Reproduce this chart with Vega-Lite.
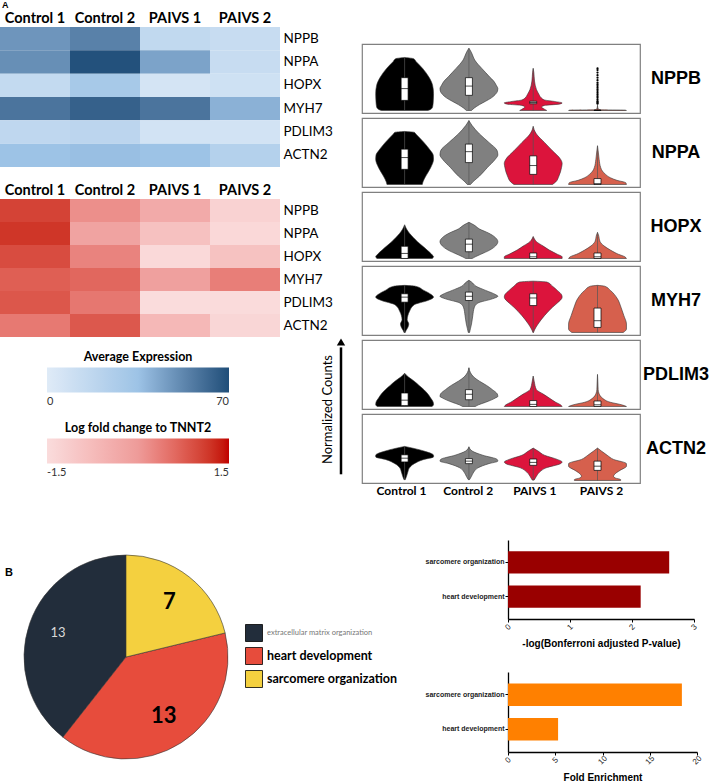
{
"$schema": "https://vega.github.io/schema/vega-lite/v6.json",
"padding": {"left": 0, "top": 1, "right": 0, "bottom": 0},
"background": "white",
"config": {"view": {"stroke": null}, "font": "Liberation Sans", "axis": {"grid": false}},
"datasets": {
"hm": [
{"gene":"NPPB","sample":"Control 1","expr":48,"lfc":1.04},
{"gene":"NPPB","sample":"Control 2","expr":54,"lfc":0.15},
{"gene":"NPPB","sample":"PAIVS 1","expr":16,"lfc":-0.35},
{"gene":"NPPB","sample":"PAIVS 2","expr":13,"lfc":-1.27},
{"gene":"NPPA","sample":"Control 1","expr":50,"lfc":1.17},
{"gene":"NPPA","sample":"Control 2","expr":69,"lfc":-0.18},
{"gene":"NPPA","sample":"PAIVS 1","expr":44,"lfc":-0.88},
{"gene":"NPPA","sample":"PAIVS 2","expr":13,"lfc":-1.4},
{"gene":"HOPX","sample":"Control 1","expr":15,"lfc":0.94},
{"gene":"HOPX","sample":"Control 2","expr":30,"lfc":0.29},
{"gene":"HOPX","sample":"PAIVS 1","expr":6,"lfc":-1.43},
{"gene":"HOPX","sample":"PAIVS 2","expr":9,"lfc":-0.9},
{"gene":"MYH7","sample":"Control 1","expr":58,"lfc":0.73},
{"gene":"MYH7","sample":"Control 2","expr":64,"lfc":0.63},
{"gene":"MYH7","sample":"PAIVS 1","expr":58,"lfc":-0.12},
{"gene":"MYH7","sample":"PAIVS 2","expr":40,"lfc":0.36},
{"gene":"PDLIM3","sample":"Control 1","expr":17,"lfc":0.82},
{"gene":"PDLIM3","sample":"Control 2","expr":19,"lfc":0.44},
{"gene":"PDLIM3","sample":"PAIVS 1","expr":7,"lfc":-1.5},
{"gene":"PDLIM3","sample":"PAIVS 2","expr":7,"lfc":-1.48},
{"gene":"ACTN2","sample":"Control 1","expr":35,"lfc":0.42},
{"gene":"ACTN2","sample":"Control 2","expr":36,"lfc":0.8},
{"gene":"ACTN2","sample":"PAIVS 1","expr":35,"lfc":-0.67},
{"gene":"ACTN2","sample":"PAIVS 2","expr":23,"lfc":-1.36}
],
"vio": [
{"gene":"NPPB","grp":"Control 1","v":0,"d":0.72},{"gene":"NPPB","grp":"Control 1","v":0.15,"d":0.82},{"gene":"NPPB","grp":"Control 1","v":0.4,"d":0.87},{"gene":"NPPB","grp":"Control 1","v":1,"d":0.89},{"gene":"NPPB","grp":"Control 1","v":2,"d":0.9},{"gene":"NPPB","grp":"Control 1","v":3,"d":0.87},{"gene":"NPPB","grp":"Control 1","v":4,"d":0.75},{"gene":"NPPB","grp":"Control 1","v":5,"d":0.56},{"gene":"NPPB","grp":"Control 1","v":5.8,"d":0.36},{"gene":"NPPB","grp":"Control 1","v":6.15,"d":0.28},{"gene":"NPPB","grp":"Control 1","v":6.3,"d":0},
{"gene":"NPPB","grp":"Control 2","v":0,"d":0.08},{"gene":"NPPB","grp":"Control 2","v":0.3,"d":0.17},{"gene":"NPPB","grp":"Control 2","v":0.7,"d":0.33},{"gene":"NPPB","grp":"Control 2","v":1.1,"d":0.52},{"gene":"NPPB","grp":"Control 2","v":1.5,"d":0.7},{"gene":"NPPB","grp":"Control 2","v":1.9,"d":0.82},{"gene":"NPPB","grp":"Control 2","v":2.3,"d":0.89},{"gene":"NPPB","grp":"Control 2","v":2.6,"d":0.9},{"gene":"NPPB","grp":"Control 2","v":3,"d":0.85},{"gene":"NPPB","grp":"Control 2","v":3.5,"d":0.77},{"gene":"NPPB","grp":"Control 2","v":4,"d":0.64},{"gene":"NPPB","grp":"Control 2","v":4.5,"d":0.52},{"gene":"NPPB","grp":"Control 2","v":5,"d":0.4},{"gene":"NPPB","grp":"Control 2","v":5.5,"d":0.28},{"gene":"NPPB","grp":"Control 2","v":6,"d":0.18},{"gene":"NPPB","grp":"Control 2","v":6.7,"d":0.1},{"gene":"NPPB","grp":"Control 2","v":7.1,"d":0.05},{"gene":"NPPB","grp":"Control 2","v":7.4,"d":0},
{"gene":"NPPB","grp":"PAIVS 1","v":0,"d":0.42},{"gene":"NPPB","grp":"PAIVS 1","v":0.15,"d":0.35},{"gene":"NPPB","grp":"PAIVS 1","v":0.4,"d":0.26},{"gene":"NPPB","grp":"PAIVS 1","v":0.6,"d":0.35},{"gene":"NPPB","grp":"PAIVS 1","v":0.75,"d":0.8},{"gene":"NPPB","grp":"PAIVS 1","v":0.9,"d":0.9},{"gene":"NPPB","grp":"PAIVS 1","v":1.05,"d":0.7},{"gene":"NPPB","grp":"PAIVS 1","v":1.25,"d":0.35},{"gene":"NPPB","grp":"PAIVS 1","v":1.5,"d":0.25},{"gene":"NPPB","grp":"PAIVS 1","v":1.9,"d":0.18},{"gene":"NPPB","grp":"PAIVS 1","v":2.5,"d":0.1},{"gene":"NPPB","grp":"PAIVS 1","v":3.5,"d":0.04},{"gene":"NPPB","grp":"PAIVS 1","v":4.5,"d":0.02},{"gene":"NPPB","grp":"PAIVS 1","v":5,"d":0},
{"gene":"NPPB","grp":"PAIVS 2","v":0,"d":0.9},{"gene":"NPPB","grp":"PAIVS 2","v":0.04,"d":0.85},{"gene":"NPPB","grp":"PAIVS 2","v":0.08,"d":0.1},{"gene":"NPPB","grp":"PAIVS 2","v":0.2,"d":0.02},{"gene":"NPPB","grp":"PAIVS 2","v":0.6,"d":0},
{"gene":"NPPA","grp":"Control 1","v":0,"d":0.55},{"gene":"NPPA","grp":"Control 1","v":0.3,"d":0.57},{"gene":"NPPA","grp":"Control 1","v":1,"d":0.66},{"gene":"NPPA","grp":"Control 1","v":2,"d":0.81},{"gene":"NPPA","grp":"Control 1","v":3,"d":0.9},{"gene":"NPPA","grp":"Control 1","v":3.5,"d":0.89},{"gene":"NPPA","grp":"Control 1","v":4,"d":0.81},{"gene":"NPPA","grp":"Control 1","v":5,"d":0.6},{"gene":"NPPA","grp":"Control 1","v":6,"d":0.35},{"gene":"NPPA","grp":"Control 1","v":6.2,"d":0.3},{"gene":"NPPA","grp":"Control 1","v":6.3,"d":0},
{"gene":"NPPA","grp":"Control 2","v":0,"d":0.05},{"gene":"NPPA","grp":"Control 2","v":0.3,"d":0.12},{"gene":"NPPA","grp":"Control 2","v":1,"d":0.33},{"gene":"NPPA","grp":"Control 2","v":2,"d":0.57},{"gene":"NPPA","grp":"Control 2","v":3,"d":0.82},{"gene":"NPPA","grp":"Control 2","v":3.5,"d":0.9},{"gene":"NPPA","grp":"Control 2","v":4,"d":0.88},{"gene":"NPPA","grp":"Control 2","v":5,"d":0.62},{"gene":"NPPA","grp":"Control 2","v":6,"d":0.33},{"gene":"NPPA","grp":"Control 2","v":7,"d":0.1},{"gene":"NPPA","grp":"Control 2","v":7.6,"d":0},
{"gene":"NPPA","grp":"PAIVS 1","v":0,"d":0.6},{"gene":"NPPA","grp":"PAIVS 1","v":0.3,"d":0.7},{"gene":"NPPA","grp":"PAIVS 1","v":1,"d":0.8},{"gene":"NPPA","grp":"PAIVS 1","v":2,"d":0.88},{"gene":"NPPA","grp":"PAIVS 1","v":2.5,"d":0.9},{"gene":"NPPA","grp":"PAIVS 1","v":3,"d":0.85},{"gene":"NPPA","grp":"PAIVS 1","v":4,"d":0.6},{"gene":"NPPA","grp":"PAIVS 1","v":5,"d":0.35},{"gene":"NPPA","grp":"PAIVS 1","v":6,"d":0.1},{"gene":"NPPA","grp":"PAIVS 1","v":6.5,"d":0.03},{"gene":"NPPA","grp":"PAIVS 1","v":6.9,"d":0},
{"gene":"NPPA","grp":"PAIVS 2","v":0,"d":0.9},{"gene":"NPPA","grp":"PAIVS 2","v":0.2,"d":0.88},{"gene":"NPPA","grp":"PAIVS 2","v":0.5,"d":0.6},{"gene":"NPPA","grp":"PAIVS 2","v":0.8,"d":0.4},{"gene":"NPPA","grp":"PAIVS 2","v":1.2,"d":0.25},{"gene":"NPPA","grp":"PAIVS 2","v":1.6,"d":0.15},{"gene":"NPPA","grp":"PAIVS 2","v":2,"d":0.1},{"gene":"NPPA","grp":"PAIVS 2","v":3,"d":0.05},{"gene":"NPPA","grp":"PAIVS 2","v":4,"d":0.02},{"gene":"NPPA","grp":"PAIVS 2","v":4.6,"d":0},
{"gene":"HOPX","grp":"Control 1","v":0,"d":0.86},{"gene":"HOPX","grp":"Control 1","v":0.2,"d":0.9},{"gene":"HOPX","grp":"Control 1","v":0.5,"d":0.84},{"gene":"HOPX","grp":"Control 1","v":1,"d":0.7},{"gene":"HOPX","grp":"Control 1","v":1.5,"d":0.55},{"gene":"HOPX","grp":"Control 1","v":2,"d":0.4},{"gene":"HOPX","grp":"Control 1","v":2.5,"d":0.27},{"gene":"HOPX","grp":"Control 1","v":3,"d":0.15},{"gene":"HOPX","grp":"Control 1","v":3.5,"d":0.06},{"gene":"HOPX","grp":"Control 1","v":4,"d":0},
{"gene":"HOPX","grp":"Control 2","v":0,"d":0.1},{"gene":"HOPX","grp":"Control 2","v":0.2,"d":0.2},{"gene":"HOPX","grp":"Control 2","v":0.5,"d":0.37},{"gene":"HOPX","grp":"Control 2","v":1,"d":0.65},{"gene":"HOPX","grp":"Control 2","v":1.5,"d":0.83},{"gene":"HOPX","grp":"Control 2","v":2,"d":0.9},{"gene":"HOPX","grp":"Control 2","v":2.5,"d":0.82},{"gene":"HOPX","grp":"Control 2","v":3,"d":0.62},{"gene":"HOPX","grp":"Control 2","v":3.5,"d":0.33},{"gene":"HOPX","grp":"Control 2","v":4,"d":0.15},{"gene":"HOPX","grp":"Control 2","v":4.3,"d":0},
{"gene":"HOPX","grp":"PAIVS 1","v":0,"d":0.9},{"gene":"HOPX","grp":"PAIVS 1","v":0.2,"d":0.9},{"gene":"HOPX","grp":"PAIVS 1","v":0.5,"d":0.75},{"gene":"HOPX","grp":"PAIVS 1","v":1,"d":0.5},{"gene":"HOPX","grp":"PAIVS 1","v":1.5,"d":0.3},{"gene":"HOPX","grp":"PAIVS 1","v":2,"d":0.1},{"gene":"HOPX","grp":"PAIVS 1","v":2.3,"d":0.04},{"gene":"HOPX","grp":"PAIVS 1","v":2.6,"d":0},
{"gene":"HOPX","grp":"PAIVS 2","v":0,"d":0.9},{"gene":"HOPX","grp":"PAIVS 2","v":0.2,"d":0.85},{"gene":"HOPX","grp":"PAIVS 2","v":0.5,"d":0.65},{"gene":"HOPX","grp":"PAIVS 2","v":1,"d":0.4},{"gene":"HOPX","grp":"PAIVS 2","v":1.5,"d":0.2},{"gene":"HOPX","grp":"PAIVS 2","v":2,"d":0.08},{"gene":"HOPX","grp":"PAIVS 2","v":2.8,"d":0.03},{"gene":"HOPX","grp":"PAIVS 2","v":3.1,"d":0},
{"gene":"MYH7","grp":"Control 1","v":0,"d":0.02},{"gene":"MYH7","grp":"Control 1","v":0.2,"d":0.04},{"gene":"MYH7","grp":"Control 1","v":0.6,"d":0.1},{"gene":"MYH7","grp":"Control 1","v":1,"d":0.13},{"gene":"MYH7","grp":"Control 1","v":1.5,"d":0.08},{"gene":"MYH7","grp":"Control 1","v":2,"d":0.1},{"gene":"MYH7","grp":"Control 1","v":2.5,"d":0.15},{"gene":"MYH7","grp":"Control 1","v":3.3,"d":0.3},{"gene":"MYH7","grp":"Control 1","v":3.8,"d":0.72},{"gene":"MYH7","grp":"Control 1","v":4.2,"d":0.9},{"gene":"MYH7","grp":"Control 1","v":4.5,"d":0.83},{"gene":"MYH7","grp":"Control 1","v":5,"d":0.6},{"gene":"MYH7","grp":"Control 1","v":5.5,"d":0.33},{"gene":"MYH7","grp":"Control 1","v":5.6,"d":0},
{"gene":"MYH7","grp":"Control 2","v":0,"d":0.02},{"gene":"MYH7","grp":"Control 2","v":0.5,"d":0.05},{"gene":"MYH7","grp":"Control 2","v":1,"d":0.08},{"gene":"MYH7","grp":"Control 2","v":2,"d":0.12},{"gene":"MYH7","grp":"Control 2","v":3,"d":0.17},{"gene":"MYH7","grp":"Control 2","v":3.5,"d":0.28},{"gene":"MYH7","grp":"Control 2","v":4,"d":0.73},{"gene":"MYH7","grp":"Control 2","v":4.3,"d":0.9},{"gene":"MYH7","grp":"Control 2","v":4.5,"d":0.83},{"gene":"MYH7","grp":"Control 2","v":5,"d":0.52},{"gene":"MYH7","grp":"Control 2","v":5.5,"d":0.22},{"gene":"MYH7","grp":"Control 2","v":6,"d":0.08},{"gene":"MYH7","grp":"Control 2","v":6.2,"d":0},
{"gene":"MYH7","grp":"PAIVS 1","v":0,"d":0.01},{"gene":"MYH7","grp":"PAIVS 1","v":0.3,"d":0.04},{"gene":"MYH7","grp":"PAIVS 1","v":1,"d":0.15},{"gene":"MYH7","grp":"PAIVS 1","v":2,"d":0.35},{"gene":"MYH7","grp":"PAIVS 1","v":3,"d":0.6},{"gene":"MYH7","grp":"PAIVS 1","v":3.5,"d":0.75},{"gene":"MYH7","grp":"PAIVS 1","v":4.2,"d":0.9},{"gene":"MYH7","grp":"PAIVS 1","v":4.5,"d":0.88},{"gene":"MYH7","grp":"PAIVS 1","v":5,"d":0.75},{"gene":"MYH7","grp":"PAIVS 1","v":5.5,"d":0.6},{"gene":"MYH7","grp":"PAIVS 1","v":6,"d":0.42},{"gene":"MYH7","grp":"PAIVS 1","v":6.1,"d":0},
{"gene":"MYH7","grp":"PAIVS 2","v":0,"d":0.8},{"gene":"MYH7","grp":"PAIVS 2","v":0.4,"d":0.9},{"gene":"MYH7","grp":"PAIVS 2","v":1,"d":0.9},{"gene":"MYH7","grp":"PAIVS 2","v":2,"d":0.82},{"gene":"MYH7","grp":"PAIVS 2","v":3,"d":0.73},{"gene":"MYH7","grp":"PAIVS 2","v":4,"d":0.62},{"gene":"MYH7","grp":"PAIVS 2","v":5,"d":0.4},{"gene":"MYH7","grp":"PAIVS 2","v":5.5,"d":0.22},{"gene":"MYH7","grp":"PAIVS 2","v":5.6,"d":0},
{"gene":"PDLIM3","grp":"Control 1","v":0,"d":0.85},{"gene":"PDLIM3","grp":"Control 1","v":0.2,"d":0.9},{"gene":"PDLIM3","grp":"Control 1","v":0.5,"d":0.89},{"gene":"PDLIM3","grp":"Control 1","v":1,"d":0.81},{"gene":"PDLIM3","grp":"Control 1","v":1.5,"d":0.72},{"gene":"PDLIM3","grp":"Control 1","v":2,"d":0.6},{"gene":"PDLIM3","grp":"Control 1","v":2.5,"d":0.45},{"gene":"PDLIM3","grp":"Control 1","v":3,"d":0.3},{"gene":"PDLIM3","grp":"Control 1","v":3.5,"d":0.12},{"gene":"PDLIM3","grp":"Control 1","v":3.95,"d":0},
{"gene":"PDLIM3","grp":"Control 2","v":0,"d":0.2},{"gene":"PDLIM3","grp":"Control 2","v":0.2,"d":0.3},{"gene":"PDLIM3","grp":"Control 2","v":0.5,"d":0.52},{"gene":"PDLIM3","grp":"Control 2","v":1,"d":0.82},{"gene":"PDLIM3","grp":"Control 2","v":1.2,"d":0.9},{"gene":"PDLIM3","grp":"Control 2","v":1.5,"d":0.88},{"gene":"PDLIM3","grp":"Control 2","v":2,"d":0.73},{"gene":"PDLIM3","grp":"Control 2","v":2.5,"d":0.55},{"gene":"PDLIM3","grp":"Control 2","v":3,"d":0.33},{"gene":"PDLIM3","grp":"Control 2","v":3.5,"d":0.15},{"gene":"PDLIM3","grp":"Control 2","v":4,"d":0.05},{"gene":"PDLIM3","grp":"Control 2","v":4.6,"d":0},
{"gene":"PDLIM3","grp":"PAIVS 1","v":0,"d":0.9},{"gene":"PDLIM3","grp":"PAIVS 1","v":0.2,"d":0.85},{"gene":"PDLIM3","grp":"PAIVS 1","v":0.5,"d":0.7},{"gene":"PDLIM3","grp":"PAIVS 1","v":1,"d":0.5},{"gene":"PDLIM3","grp":"PAIVS 1","v":1.5,"d":0.3},{"gene":"PDLIM3","grp":"PAIVS 1","v":2,"d":0.1},{"gene":"PDLIM3","grp":"PAIVS 1","v":3,"d":0.03},{"gene":"PDLIM3","grp":"PAIVS 1","v":3.6,"d":0},
{"gene":"PDLIM3","grp":"PAIVS 2","v":0,"d":0.9},{"gene":"PDLIM3","grp":"PAIVS 2","v":0.2,"d":0.75},{"gene":"PDLIM3","grp":"PAIVS 2","v":0.5,"d":0.4},{"gene":"PDLIM3","grp":"PAIVS 2","v":1,"d":0.15},{"gene":"PDLIM3","grp":"PAIVS 2","v":1.5,"d":0.05},{"gene":"PDLIM3","grp":"PAIVS 2","v":2,"d":0.02},{"gene":"PDLIM3","grp":"PAIVS 2","v":3,"d":0.01},{"gene":"PDLIM3","grp":"PAIVS 2","v":3.8,"d":0},
{"gene":"ACTN2","grp":"Control 1","v":0.1,"d":0.02},{"gene":"ACTN2","grp":"Control 1","v":0.5,"d":0.06},{"gene":"ACTN2","grp":"Control 1","v":1,"d":0.1},{"gene":"ACTN2","grp":"Control 1","v":1.5,"d":0.15},{"gene":"ACTN2","grp":"Control 1","v":2,"d":0.3},{"gene":"ACTN2","grp":"Control 1","v":2.5,"d":0.6},{"gene":"ACTN2","grp":"Control 1","v":2.8,"d":0.9},{"gene":"ACTN2","grp":"Control 1","v":3,"d":0.9},{"gene":"ACTN2","grp":"Control 1","v":3.5,"d":0.6},{"gene":"ACTN2","grp":"Control 1","v":3.8,"d":0.3},{"gene":"ACTN2","grp":"Control 1","v":4.05,"d":0},
{"gene":"ACTN2","grp":"Control 2","v":0.1,"d":0.02},{"gene":"ACTN2","grp":"Control 2","v":0.5,"d":0.08},{"gene":"ACTN2","grp":"Control 2","v":1,"d":0.15},{"gene":"ACTN2","grp":"Control 2","v":1.5,"d":0.28},{"gene":"ACTN2","grp":"Control 2","v":2,"d":0.62},{"gene":"ACTN2","grp":"Control 2","v":2.3,"d":0.9},{"gene":"ACTN2","grp":"Control 2","v":2.5,"d":0.88},{"gene":"ACTN2","grp":"Control 2","v":3,"d":0.43},{"gene":"ACTN2","grp":"Control 2","v":3.5,"d":0.1},{"gene":"ACTN2","grp":"Control 2","v":4,"d":0},
{"gene":"ACTN2","grp":"PAIVS 1","v":0.05,"d":0.03},{"gene":"ACTN2","grp":"PAIVS 1","v":0.5,"d":0.1},{"gene":"ACTN2","grp":"PAIVS 1","v":1,"d":0.2},{"gene":"ACTN2","grp":"PAIVS 1","v":1.5,"d":0.4},{"gene":"ACTN2","grp":"PAIVS 1","v":2,"d":0.85},{"gene":"ACTN2","grp":"PAIVS 1","v":2.2,"d":0.9},{"gene":"ACTN2","grp":"PAIVS 1","v":2.5,"d":0.75},{"gene":"ACTN2","grp":"PAIVS 1","v":3,"d":0.35},{"gene":"ACTN2","grp":"PAIVS 1","v":3.5,"d":0.15},{"gene":"ACTN2","grp":"PAIVS 1","v":3.85,"d":0},
{"gene":"ACTN2","grp":"PAIVS 2","v":0,"d":0.72},{"gene":"ACTN2","grp":"PAIVS 2","v":0.1,"d":0.72},{"gene":"ACTN2","grp":"PAIVS 2","v":0.3,"d":0.55},{"gene":"ACTN2","grp":"PAIVS 2","v":0.5,"d":0.5},{"gene":"ACTN2","grp":"PAIVS 2","v":0.8,"d":0.55},{"gene":"ACTN2","grp":"PAIVS 2","v":1.2,"d":0.7},{"gene":"ACTN2","grp":"PAIVS 2","v":1.7,"d":0.9},{"gene":"ACTN2","grp":"PAIVS 2","v":2,"d":0.9},{"gene":"ACTN2","grp":"PAIVS 2","v":2.5,"d":0.5},{"gene":"ACTN2","grp":"PAIVS 2","v":3,"d":0.3},{"gene":"ACTN2","grp":"PAIVS 2","v":3.5,"d":0.12},{"gene":"ACTN2","grp":"PAIVS 2","v":3.85,"d":0},
{"gene":"NPPB","grp":"Control 1","lo":0,"q1":1.2,"med":2.6,"q3":3.9,"hi":6.3},
{"gene":"NPPB","grp":"Control 2","lo":0,"q1":1.8,"med":2.9,"q3":3.9,"hi":7.4},
{"gene":"NPPB","grp":"PAIVS 1","lo":0,"q1":0.8,"med":0.95,"q3":1.1,"hi":5},
{"gene":"NPPB","grp":"PAIVS 2","lo":0,"q1":0,"med":0,"q3":0.05,"hi":0.7},
{"gene":"NPPA","grp":"Control 1","lo":0,"q1":1.8,"med":3.2,"q3":4.2,"hi":6.3},
{"gene":"NPPA","grp":"Control 2","lo":0,"q1":2.6,"med":3.9,"q3":4.8,"hi":7.6},
{"gene":"NPPA","grp":"PAIVS 1","lo":0,"q1":1.2,"med":2.25,"q3":3.4,"hi":6.9},
{"gene":"NPPA","grp":"PAIVS 2","lo":0,"q1":0,"med":0.1,"q3":0.7,"hi":4.6},
{"gene":"HOPX","grp":"Control 1","lo":0,"q1":0,"med":0.6,"q3":1.45,"hi":4},
{"gene":"HOPX","grp":"Control 2","lo":0,"q1":0.8,"med":1.7,"q3":2.3,"hi":4.3},
{"gene":"HOPX","grp":"PAIVS 1","lo":0,"q1":0,"med":0.2,"q3":0.65,"hi":2.6},
{"gene":"HOPX","grp":"PAIVS 2","lo":0,"q1":0,"med":0.2,"q3":0.65,"hi":3.1},
{"gene":"MYH7","grp":"Control 1","lo":0,"q1":3.6,"med":4.2,"q3":4.6,"hi":5.6},
{"gene":"MYH7","grp":"Control 2","lo":0,"q1":3.8,"med":4.3,"q3":4.8,"hi":6.2},
{"gene":"MYH7","grp":"PAIVS 1","lo":0,"q1":3.2,"med":4.1,"q3":4.6,"hi":6.1},
{"gene":"MYH7","grp":"PAIVS 2","lo":0,"q1":0.6,"med":1.4,"q3":2.9,"hi":5.6},
{"gene":"PDLIM3","grp":"Control 1","lo":0,"q1":0.1,"med":0.75,"q3":1.6,"hi":3.95},
{"gene":"PDLIM3","grp":"Control 2","lo":0,"q1":0.8,"med":1.45,"q3":2,"hi":4.6},
{"gene":"PDLIM3","grp":"PAIVS 1","lo":0,"q1":0,"med":0.25,"q3":0.7,"hi":3.6},
{"gene":"PDLIM3","grp":"PAIVS 2","lo":0,"q1":0,"med":0.2,"q3":0.65,"hi":3.8},
{"gene":"ACTN2","grp":"Control 1","lo":0.1,"q1":2.2,"med":2.65,"q3":3.05,"hi":4.05},
{"gene":"ACTN2","grp":"Control 2","lo":0.1,"q1":2,"med":2.3,"q3":2.6,"hi":4},
{"gene":"ACTN2","grp":"PAIVS 1","lo":0,"q1":1.8,"med":2.15,"q3":2.55,"hi":3.85},
{"gene":"ACTN2","grp":"PAIVS 2","lo":0,"q1":1.2,"med":1.7,"q3":2.3,"hi":3.85},
{"gene":"NPPB","grp":"PAIVS 2","o":0.8},{"gene":"NPPB","grp":"PAIVS 2","o":0.9},{"gene":"NPPB","grp":"PAIVS 2","o":1.0},{"gene":"NPPB","grp":"PAIVS 2","o":1.1},{"gene":"NPPB","grp":"PAIVS 2","o":1.3},{"gene":"NPPB","grp":"PAIVS 2","o":1.5},{"gene":"NPPB","grp":"PAIVS 2","o":1.7},{"gene":"NPPB","grp":"PAIVS 2","o":1.9},{"gene":"NPPB","grp":"PAIVS 2","o":2.1},{"gene":"NPPB","grp":"PAIVS 2","o":2.3},{"gene":"NPPB","grp":"PAIVS 2","o":2.5},{"gene":"NPPB","grp":"PAIVS 2","o":2.7},{"gene":"NPPB","grp":"PAIVS 2","o":2.9},{"gene":"NPPB","grp":"PAIVS 2","o":3.1},{"gene":"NPPB","grp":"PAIVS 2","o":3.3},{"gene":"NPPB","grp":"PAIVS 2","o":3.6},{"gene":"NPPB","grp":"PAIVS 2","o":3.9},{"gene":"NPPB","grp":"PAIVS 2","o":4.2},{"gene":"NPPB","grp":"PAIVS 2","o":4.5},{"gene":"NPPB","grp":"PAIVS 2","o":4.8},{"gene":"NPPB","grp":"PAIVS 2","o":5.0}
],
"go": [
{"term":"sarcomere organization","p":2.6,"fe":18.4},
{"term":"heart development","p":2.14,"fe":5.3}
],
"pie": [
{"term":"extracellular matrix organization","n":13},
{"term":"heart development","n":13},
{"term":"sarcomere organization","n":7}
],
"groups": [{"grp":"Control 1"},{"grp":"Control 2"},{"grp":"PAIVS 1"},{"grp":"PAIVS 2"}]
},
"spacing": 44,
"resolve": {"scale": {"color": "independent"}, "legend": {"color": "independent"}},
"vconcat": [
{
"spacing": 15,
"resolve": {"scale": {"color": "independent"}, "legend": {"color": "independent"}},
"hconcat": [
{
"spacing": 1,
"resolve": {"scale": {"color": "independent"}, "legend": {"color": "independent"}},
"vconcat": [
{
"spacing": 15,
"resolve": {"scale": {"color": "independent"}, "legend": {"color": "independent"}},
"vconcat": [
{
"data": {"name": "hm"},
"width": 280, "height": 140,
"title": {"text": "A", "anchor": "start", "frame": "group", "font": "Liberation Sans", "fontSize": 9, "fontWeight": "bold", "color": "black", "offset": 0, "dx": 2},
"mark": "rect",
"encoding": {
"x": {"field": "sample", "type": "nominal", "sort": ["Control 1","Control 2","PAIVS 1","PAIVS 2"], "axis": {"orient": "top", "title": null, "ticks": false, "domain": false, "labelAngle": 0, "labelFont": "Lato", "labelFontSize": 14.5, "labelFontWeight": "bold", "labelColor": "black", "labelPadding": 2}},
"y": {"field": "gene", "type": "nominal", "sort": ["NPPB","NPPA","HOPX","MYH7","PDLIM3","ACTN2"], "axis": {"orient": "right", "title": null, "ticks": false, "domain": false, "labelFont": "Lato", "labelFontSize": 13.5, "labelColor": "black", "labelPadding": 3}},
"color": {"field": "expr", "type": "quantitative", "scale": {"domain": [0, 35, 70], "range": ["#dfebf7", "#9dc3e6", "#1f4e79"]}, "legend": null}
}
},
{
"data": {"name": "hm"},
"width": 280, "height": 138,
"mark": "rect",
"encoding": {
"x": {"field": "sample", "type": "nominal", "sort": ["Control 1","Control 2","PAIVS 1","PAIVS 2"], "axis": {"orient": "top", "title": null, "ticks": false, "domain": false, "labelAngle": 0, "labelFont": "Lato", "labelFontSize": 14.5, "labelFontWeight": "bold", "labelColor": "black", "labelPadding": 2}},
"y": {"field": "gene", "type": "nominal", "sort": ["NPPB","NPPA","HOPX","MYH7","PDLIM3","ACTN2"], "axis": {"orient": "right", "title": null, "ticks": false, "domain": false, "labelFont": "Lato", "labelFontSize": 13.5, "labelColor": "black", "labelPadding": 3}},
"color": {"field": "lfc", "type": "quantitative", "scale": {"domain": [-1.5, 0, 1.5], "range": ["#fadcdc", "#ee9b99", "#c00000"]}, "legend": null}
}
}
]
},
{
"width": 341, "height": 135,
"resolve": {"scale": {"color": "independent"}, "legend": {"color": "independent"}},
"layer": [
{"data": {"values": [{"t": "Normalized Counts"}]},
 "mark": {"type": "text", "angle": 270, "font": "Lato", "fontSize": 13, "color": "black"},
 "encoding": {
  "x": {"datum": 0.962, "type": "quantitative", "scale": {"domain": [0, 1], "nice": false, "zero": false}, "axis": null},
  "y": {"datum": 0.5, "type": "quantitative", "scale": {"domain": [0, 1], "nice": false, "zero": false}, "axis": null},
  "text": {"field": "t"}}},
{"data": {"values": [{"a": 1}]},
 "mark": {"type": "rule", "color": "black", "strokeWidth": 2.5},
 "encoding": {"x": {"datum": 1, "type": "quantitative", "axis": null}, "y": {"datum": 0.02, "type": "quantitative", "axis": null}, "y2": {"datum": 0.96}}},
{"data": {"values": [{"a": 1}]},
 "mark": {"type": "point", "shape": "triangle-up", "filled": true, "color": "black", "opacity": 1, "size": 70},
 "encoding": {"x": {"datum": 1, "type": "quantitative", "axis": null}, "y": {"datum": 1, "type": "quantitative", "axis": null}}},
{"data": {"name": "hm"},
 "mark": {"type": "text", "text": ""},
 "encoding": {"color": {"field": "expr", "type": "quantitative", "scale": {"domain": [0, 35, 70], "range": ["#dfebf7", "#9dc3e6", "#1f4e79"]},
  "legend": {"orient": "none", "legendX": 47, "legendY": 9, "direction": "horizontal", "title": "Average Expression", "titleAnchor": "middle", "titleFont": "Lato", "titleFontSize": 12.5, "titleFontWeight": "bold", "titleColor": "black", "titlePadding": 4, "gradientLength": 182, "gradientThickness": 25, "gradientStrokeWidth": 0, "values": [0, 70], "labelFont": "Lato", "labelFontSize": 11, "labelColor": "#333333", "labelOffset": 3}}}},
{"data": {"name": "hm"},
 "mark": {"type": "text", "text": ""},
 "encoding": {"color": {"field": "lfc", "type": "quantitative", "scale": {"domain": [-1.5, 0, 1.5], "range": ["#fadcdc", "#ee9b99", "#c00000"]},
  "legend": {"orient": "none", "legendX": 47, "legendY": 80, "direction": "horizontal", "title": "Log fold change to TNNT2", "titleAnchor": "middle", "titleFont": "Lato", "titleFontSize": 12.5, "titleFontWeight": "bold", "titleColor": "black", "titlePadding": 4, "gradientLength": 182, "gradientThickness": 25, "gradientStrokeWidth": 0, "values": [-1.5, 1.5], "labelExpr": "datum.value < 0 ? '-1.5' : '1.5'", "labelFont": "Lato", "labelFontSize": 11, "labelColor": "#333333", "labelOffset": 3}}}}
]
}
]
},
{
"spacing": 0,
"resolve": {"scale": {"color": "independent"}, "legend": {"color": "independent"}},
"vconcat": [
{
"data": {"values": [{"a": 1}]},
"width": 278, "height": 16,
"mark": {"type": "point", "opacity": 0},
"encoding": {}
},
{
"data": {"name": "vio"},
"spacing": {"row": 3},
"facet": {"row": {"field": "gene", "type": "nominal", "sort": ["NPPB","NPPA","HOPX","MYH7","PDLIM3","ACTN2"],
 "header": {"title": null, "labels": false}}},
"spec": {
"width": 278, "height": 69,
"view": {"stroke": "#808080", "strokeWidth": 1.2},
"resolve": {"scale": {"x": "independent"}, "axis": {"x": "independent"}},
"layer": [
{"transform": [{"filter": {"field": "grp", "equal": "Control 1"}}],
 "layer": [
  {"transform": [{"filter": {"field": "d", "valid": true}}],
   "mark": {"type": "area", "orient": "horizontal", "interpolate": "monotone", "fill": "#000000", "stroke": "#333333", "strokeWidth": 0.6},
   "encoding": {"x": {"field": "d", "type": "quantitative", "stack": "center", "scale": {"domain": [-0.135, 4.033], "nice": false, "zero": false}, "axis": null},
    "y": {"field": "v", "type": "quantitative", "scale": {"domain": [-0.3, 7.9], "nice": false, "zero": false}, "title": null,
     "axis": {"values": [0, 2, 4, 6], "title": null, "domain": false, "grid": false, "tickSize": 4, "tickColor": "#666666", "labelFont": "Liberation Sans", "labelFontSize": 10, "labelColor": "#444444", "labelPadding": 2}}}},
  {"transform": [{"filter": {"field": "lo", "valid": true}}],
   "mark": {"type": "rule", "color": "#555555", "strokeWidth": 0.7},
   "encoding": {"x": {"datum": 0.45}, "y": {"field": "lo", "type": "quantitative", "scale": {"domain": [-0.3, 7.9], "nice": false, "zero": false}, "axis": null, "title": null}, "y2": {"field": "hi"}}},
  {"transform": [{"filter": {"field": "lo", "valid": true}}],
   "mark": {"type": "bar", "size": 7, "fill": "white", "stroke": "black", "strokeWidth": 0.7},
   "encoding": {"x": {"datum": 0.45}, "y": {"field": "q1", "type": "quantitative", "scale": {"domain": [-0.3, 7.9], "nice": false, "zero": false}, "axis": null, "title": null}, "y2": {"field": "q3"}}},
  {"transform": [{"filter": {"field": "lo", "valid": true}}],
   "mark": {"type": "tick", "orient": "horizontal", "size": 7, "thickness": 1, "color": "black"},
   "encoding": {"x": {"datum": 0.45}, "y": {"field": "med", "type": "quantitative", "scale": {"domain": [-0.3, 7.9], "nice": false, "zero": false}, "axis": null, "title": null}}}
 ]},
{"transform": [{"filter": {"field": "grp", "equal": "Control 2"}}],
 "layer": [
  {"transform": [{"filter": {"field": "d", "valid": true}}],
   "mark": {"type": "area", "orient": "horizontal", "interpolate": "monotone", "fill": "#808080", "stroke": "#333333", "strokeWidth": 0.6},
   "encoding": {"x": {"field": "d", "type": "quantitative", "stack": "center", "scale": {"domain": [-1.135, 3.033], "nice": false, "zero": false}, "axis": null},
    "y": {"field": "v", "type": "quantitative", "scale": {"domain": [-0.3, 7.9], "nice": false, "zero": false}, "axis": null, "title": null}}},
  {"transform": [{"filter": {"field": "lo", "valid": true}}],
   "mark": {"type": "rule", "color": "#555555", "strokeWidth": 0.7},
   "encoding": {"x": {"datum": 0.45}, "y": {"field": "lo", "type": "quantitative", "scale": {"domain": [-0.3, 7.9], "nice": false, "zero": false}, "axis": null, "title": null}, "y2": {"field": "hi"}}},
  {"transform": [{"filter": {"field": "lo", "valid": true}}],
   "mark": {"type": "bar", "size": 7, "fill": "white", "stroke": "black", "strokeWidth": 0.7},
   "encoding": {"x": {"datum": 0.45}, "y": {"field": "q1", "type": "quantitative", "scale": {"domain": [-0.3, 7.9], "nice": false, "zero": false}, "axis": null, "title": null}, "y2": {"field": "q3"}}},
  {"transform": [{"filter": {"field": "lo", "valid": true}}],
   "mark": {"type": "tick", "orient": "horizontal", "size": 7, "thickness": 1, "color": "black"},
   "encoding": {"x": {"datum": 0.45}, "y": {"field": "med", "type": "quantitative", "scale": {"domain": [-0.3, 7.9], "nice": false, "zero": false}, "axis": null, "title": null}}}
 ]},
{"transform": [{"filter": {"field": "grp", "equal": "PAIVS 1"}}],
 "layer": [
  {"transform": [{"filter": {"field": "d", "valid": true}}],
   "mark": {"type": "area", "orient": "horizontal", "interpolate": "monotone", "fill": "#dc143c", "stroke": "#333333", "strokeWidth": 0.6},
   "encoding": {"x": {"field": "d", "type": "quantitative", "stack": "center", "scale": {"domain": [-2.135, 2.033], "nice": false, "zero": false}, "axis": null},
    "y": {"field": "v", "type": "quantitative", "scale": {"domain": [-0.3, 7.9], "nice": false, "zero": false}, "axis": null, "title": null}}},
  {"transform": [{"filter": {"field": "lo", "valid": true}}],
   "mark": {"type": "rule", "color": "#555555", "strokeWidth": 0.7},
   "encoding": {"x": {"datum": 0.45}, "y": {"field": "lo", "type": "quantitative", "scale": {"domain": [-0.3, 7.9], "nice": false, "zero": false}, "axis": null, "title": null}, "y2": {"field": "hi"}}},
  {"transform": [{"filter": {"field": "lo", "valid": true}}],
   "mark": {"type": "bar", "size": 7, "fill": "white", "stroke": "black", "strokeWidth": 0.7},
   "encoding": {"x": {"datum": 0.45}, "y": {"field": "q1", "type": "quantitative", "scale": {"domain": [-0.3, 7.9], "nice": false, "zero": false}, "axis": null, "title": null}, "y2": {"field": "q3"}}},
  {"transform": [{"filter": {"field": "lo", "valid": true}}],
   "mark": {"type": "tick", "orient": "horizontal", "size": 7, "thickness": 1, "color": "black"},
   "encoding": {"x": {"datum": 0.45}, "y": {"field": "med", "type": "quantitative", "scale": {"domain": [-0.3, 7.9], "nice": false, "zero": false}, "axis": null, "title": null}}}
 ]},
{"transform": [{"filter": {"field": "grp", "equal": "PAIVS 2"}}],
 "layer": [
  {"transform": [{"filter": {"field": "d", "valid": true}}],
   "mark": {"type": "area", "orient": "horizontal", "interpolate": "monotone", "fill": "#d6604d", "stroke": "#333333", "strokeWidth": 0.6},
   "encoding": {"x": {"field": "d", "type": "quantitative", "stack": "center", "scale": {"domain": [-3.135, 1.033], "nice": false, "zero": false}, "axis": null},
    "y": {"field": "v", "type": "quantitative", "scale": {"domain": [-0.3, 7.9], "nice": false, "zero": false}, "axis": null, "title": null}}},
  {"transform": [{"filter": {"field": "lo", "valid": true}}],
   "mark": {"type": "rule", "color": "#555555", "strokeWidth": 0.7},
   "encoding": {"x": {"datum": 0.45}, "y": {"field": "lo", "type": "quantitative", "scale": {"domain": [-0.3, 7.9], "nice": false, "zero": false}, "axis": null, "title": null}, "y2": {"field": "hi"}}},
  {"transform": [{"filter": {"field": "lo", "valid": true}}],
   "mark": {"type": "bar", "size": 7, "fill": "white", "stroke": "black", "strokeWidth": 0.7},
   "encoding": {"x": {"datum": 0.45}, "y": {"field": "q1", "type": "quantitative", "scale": {"domain": [-0.3, 7.9], "nice": false, "zero": false}, "axis": null, "title": null}, "y2": {"field": "q3"}}},
  {"transform": [{"filter": {"field": "lo", "valid": true}}],
   "mark": {"type": "tick", "orient": "horizontal", "size": 7, "thickness": 1, "color": "black"},
   "encoding": {"x": {"datum": 0.45}, "y": {"field": "med", "type": "quantitative", "scale": {"domain": [-0.3, 7.9], "nice": false, "zero": false}, "axis": null, "title": null}}},
  {"transform": [{"filter": {"field": "o", "valid": true}}],
   "mark": {"type": "point", "filled": true, "color": "black", "size": 5, "opacity": 1},
   "encoding": {"x": {"datum": 0.45}, "y": {"field": "o", "type": "quantitative", "scale": {"domain": [-0.3, 7.9], "nice": false, "zero": false}, "axis": null, "title": null}}}
 ]},
{"transform": [{"filter": {"field": "grp", "equal": "Control 1"}}, {"filter": {"field": "lo", "valid": true}}],
 "mark": {"type": "text", "align": "center", "baseline": "middle", "font": "Liberation Sans", "fontSize": 18, "fontWeight": "bold", "color": "black"},
 "encoding": {"x": {"datum": 1.1295, "type": "quantitative", "scale": {"domain": [0, 1], "nice": false, "zero": false}, "axis": null},
  "y": {"datum": 3.8, "type": "quantitative", "scale": {"domain": [-0.3, 7.9], "nice": false, "zero": false}, "axis": null, "title": null},
  "text": {"field": "gene"}}}
]
}
},
{
"data": {"name": "groups"},
"width": 278, "height": 1,
"mark": {"type": "point", "opacity": 0},
"encoding": {
"x": {"field": "grp", "type": "nominal", "sort": null, "scale": {"type": "point", "padding": 0.585},
 "axis": {"orient": "bottom", "title": null, "ticks": false, "domain": false, "labelAngle": 0, "labelFont": "Lato", "labelFontWeight": "bold", "labelFontSize": 12, "labelColor": "black", "labelPadding": 0, "labelBaseline": "middle"}}
}
}
]
}
]
},
{
"spacing": 28,
"resolve": {"scale": {"color": "independent"}, "legend": {"color": "independent"}},
"hconcat": [
{
"data": {"name": "pie"},
"width": 252, "height": 234,
"title": {"text": "B", "anchor": "start", "frame": "group", "orient": "top", "offset": -38, "dx": 5, "font": "Liberation Sans", "fontSize": 11, "fontWeight": "bold", "color": "black", "align": "left"},
"encoding": {
"theta": {"field": "n", "type": "quantitative", "stack": true},
"order": {"field": "term", "sort": "descending"}
},
"layer": [
{"mark": {"type": "arc", "outerRadius": 102, "stroke": "#333333", "strokeWidth": 0.6},
 "encoding": {"color": {"field": "term", "type": "nominal",
  "scale": {"domain": ["extracellular matrix organization", "heart development", "sarcomere organization"], "range": ["#222d3b", "#e74c3c", "#f4d03f"]},
  "legend": {"orient": "none", "legendX": 245, "legendY": 84, "title": null, "symbolType": "square", "symbolSize": 289, "symbolStrokeColor": "black", "symbolStrokeWidth": 0.8, "symbolOpacity": 1, "labelFont": "Lato", "labelOffset": 4, "rowPadding": 1, "labelLimit": 300,
   "encode": {"labels": {"update": {
    "fontSize": {"signal": "datum.label === 'extracellular matrix organization' ? 7.5 : 12.5"},
    "fontWeight": {"signal": "datum.label === 'extracellular matrix organization' ? 'normal' : 'bold'"},
    "fill": {"signal": "datum.label === 'extracellular matrix organization' ? '#777777' : '#000000'"}}}}}}}},
{"mark": {"type": "text", "radius": 70, "font": "Lato", "fontSize": 22, "fontWeight": "bold", "color": "black"},
 "encoding": {"text": {"condition": {"test": "datum.term !== 'extracellular matrix organization'", "field": "n", "type": "quantitative"}, "value": ""}}},
{"mark": {"type": "text", "radius": 72, "font": "Lato", "fontSize": 13, "color": "#d9d9d9"},
 "encoding": {"text": {"condition": {"test": "datum.term === 'extracellular matrix organization'", "field": "n", "type": "quantitative"}, "value": ""}}}
]
},
{
"spacing": 23,
"resolve": {"scale": {"color": "independent"}, "legend": {"color": "independent"}},
"vconcat": [
{
"data": {"name": "go"},
"width": 186, "height": 79,
"mark": {"type": "bar", "color": "#990000"},
"encoding": {
"y": {"field": "term", "type": "nominal", "sort": ["sarcomere organization", "heart development"], "scale": {"paddingInner": 0.35, "paddingOuter": 0.33},
 "axis": {"title": null, "labelFont": "Liberation Sans", "labelFontSize": 7, "labelFontWeight": "bold", "labelColor": "#222222", "tickSize": 3, "tickColor": "black", "domainColor": "black", "domainWidth": 1.3, "labelPadding": 1}},
"x": {"field": "p", "type": "quantitative", "scale": {"domain": [0, 3], "nice": false},
 "axis": {"values": [0, 1, 2, 3], "title": "-log(Bonferroni adjusted P-value)", "labelAngle": -45, "labelAlign": "center", "labelBaseline": "middle", "labelPadding": 5, "labelFont": "Liberation Sans", "labelFontSize": 8, "labelColor": "#222222", "tickSize": 3, "tickColor": "black", "domainColor": "black", "domainWidth": 1.3, "titleFont": "Liberation Sans", "titleFontSize": 10, "titleFontWeight": "bold", "titleColor": "black", "titlePadding": 7}}
}
},
{
"data": {"name": "go"},
"width": 189, "height": 80,
"mark": {"type": "bar", "color": "#ff8000"},
"encoding": {
"y": {"field": "term", "type": "nominal", "sort": ["sarcomere organization", "heart development"], "scale": {"paddingInner": 0.35, "paddingOuter": 0.33},
 "axis": {"title": null, "labelFont": "Liberation Sans", "labelFontSize": 7, "labelFontWeight": "bold", "labelColor": "#222222", "tickSize": 3, "tickColor": "black", "domainColor": "black", "domainWidth": 1.3, "labelPadding": 1}},
"x": {"field": "fe", "type": "quantitative", "scale": {"domain": [0, 20], "nice": false},
 "axis": {"values": [0, 5, 10, 15, 20], "title": "Fold Enrichment", "labelAngle": -45, "labelAlign": "center", "labelBaseline": "middle", "labelPadding": 5, "labelFont": "Liberation Sans", "labelFontSize": 8, "labelColor": "#222222", "tickSize": 3, "tickColor": "black", "domainColor": "black", "domainWidth": 1.3, "titleFont": "Liberation Sans", "titleFontSize": 10, "titleFontWeight": "bold", "titleColor": "black", "titlePadding": 7}}
}
}
]
}
]
}
]
}
